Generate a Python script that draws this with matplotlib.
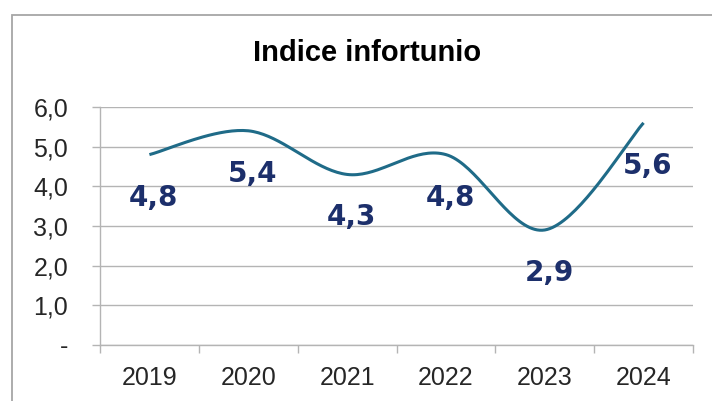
import numpy as np
import matplotlib
matplotlib.use("Agg")
from matplotlib import pyplot as plt
from matplotlib.patches import Rectangle

# Data
years = ["2019", "2020", "2021", "2022", "2023", "2024"]
values = [4.8, 5.4, 4.3, 4.8, 2.9, 5.6]
labels = ["4,8", "5,4", "4,3", "4,8", "2,9", "5,6"]
y_ticks = [0, 1, 2, 3, 4, 5, 6]
y_ticklabels = ["-", "1,0", "2,0", "3,0", "4,0", "5,0", "6,0"]

line_col = "#1f6b88"
label_col = "#1c2f6b"
grid_col = "#b4b4b4"
text_col = "#262626"

plt.rcParams['font.family'] = ['Liberation Sans', 'DejaVu Sans']


# Smoothed line like Excel (Catmull-Rom as cubic Bezier)
def smooth(x, y, n=40):
    px = np.concatenate([[x[0]], x, [x[-1]]])
    py = np.concatenate([[y[0]], y, [y[-1]]])
    xs, ys = [], []
    t = np.linspace(0, 1, n)
    for i in range(1, len(px) - 2):
        p0 = np.array([px[i - 1], py[i - 1]])
        p1 = np.array([px[i], py[i]])
        p2 = np.array([px[i + 1], py[i + 1]])
        p3 = np.array([px[i + 2], py[i + 2]])
        c1 = p1 + (p2 - p0) / 6
        c2 = p2 - (p3 - p1) / 6
        b = ((1 - t) ** 3)[:, None] * p1 + (3 * (1 - t) ** 2 * t)[:, None] * c1 \
            + (3 * (1 - t) * t ** 2)[:, None] * c2 + (t ** 3)[:, None] * p2
        xs.extend(b[:, 0])
        ys.extend(b[:, 1])
    return np.array(xs), np.array(ys)


x = np.arange(len(years)) + 0.5
sx, sy = smooth(x, np.array(values))

fig = plt.figure(figsize=(7.12, 4.01), dpi=100)
ax = fig.add_axes([100 / 712, 1 - 345 / 401, 593 / 712, 238 / 401])

# chart border (cropped at right and bottom)
fig.patches.append(Rectangle((12 / 712, -0.1), 1.2, (1 - 15 / 401) + 0.1,
                             transform=fig.transFigure, fill=False,
                             edgecolor="#a6a6a6", lw=1.3))

ax.plot(sx, sy, color=line_col, lw=2.2, solid_capstyle='butt', zorder=3)
for xi, v, lab in zip(x, values, labels):
    ax.annotate(lab, (xi, v), xytext=(3, -31), textcoords='offset points',
                ha='center', va='center', fontsize=20, fontweight='bold',
                color=label_col, family='DejaVu Sans')

ax.set_xlim(0, len(years))
ax.set_ylim(0, 6)
ax.set_yticks(y_ticks)
ax.set_yticklabels(y_ticklabels)
ax.set_xticks(np.arange(len(years) + 1))
ax.set_xticklabels([])
ax.set_xticks(x, minor=True)
ax.set_xticklabels(years, minor=True)
ax.tick_params(axis='x', which='minor', length=0, pad=15, labelsize=18, labelcolor=text_col)
ax.tick_params(axis='x', which='major', length=6, color=grid_col, width=1)
ax.tick_params(axis='y', length=6, color=grid_col, width=1, pad=17,
               labelsize=18, labelcolor=text_col)
ax.grid(axis='y', color=grid_col, lw=1)
ax.set_axisbelow(True)
for s in ['top', 'right']:
    ax.spines[s].set_visible(False)
for s in ['left', 'bottom']:
    ax.spines[s].set_color(grid_col)
    ax.spines[s].set_linewidth(1)

fig.text(367 / 712, 1 - 53 / 401, "Indice infortunio", ha='center', va='center',
         fontsize=21, fontweight='bold', color='black')

fig.savefig("out.png", dpi=100)
